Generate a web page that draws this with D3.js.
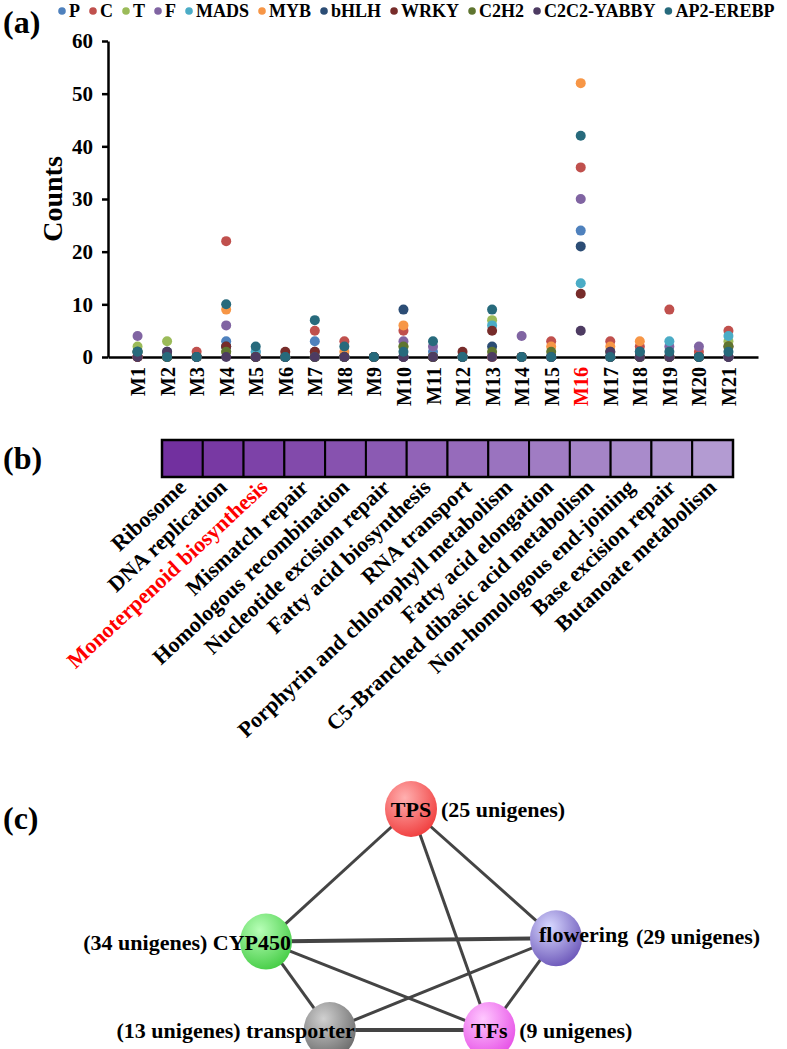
<!DOCTYPE html>
<html><head><meta charset="utf-8">
<script src="https://cdn.jsdelivr.net/npm/d3@7"></script>
<style>
body{margin:0;background:#fff;}
text{font-family:"Liberation Serif","Times New Roman",serif;font-weight:bold;}
</style></head>
<body><svg id="chart" width="787" height="1049"></svg>
<script>
// ---------- Panel (a) data ----------
const modules = ["M1","M2","M3","M4","M5","M6","M7","M8","M9","M10","M11","M12","M13","M14","M15","M16","M17","M18","M19","M20","M21"];
const seriesNames = ["P","C","T","F","MADS","MYB","bHLH","WRKY","C2H2","C2C2-YABBY","AP2-EREBP"];
const seriesColors = ["#4F81BD","#C0504D","#9BBB59","#8064A2","#4BACC6","#F79646","#2C4D75","#772C2A","#5F7530","#4D3B62","#276A7C"];
const P     = [0,0,0,3,1,0,3,0,0,0,1,0,0,0,0,24,0,0,0,0,0];
const C     = [0,0,1,22,0,0,5,3,0,5,0,0,0,0,3,36,3,2,9,1,5];
const T     = [2,3,0,1,0,0,0,0,0,2,0,0,7,0,0,null,0,0,0,0,3];
const F     = [4,0,0,6,0,0,1,0,0,3,2,0,0,4,0,30,0,0,2,2,0];
const MADS  = [1,0,0,2,1,0,0,0,0,0,0,0,6,0,0,14,0,0,3,0,4];
const MYB   = [0,0,0,9,0,0,0,1,0,6,0,0,0,0,2,52,2,3,0,0,0];
const bHLH  = [1,1,0,2,0,0,0,0,0,9,0,0,2,0,0,21,0,1,0,0,0];
const WRKY  = [0,0,0,2,0,1,1,0,0,0,0,1,5,0,0,12,0,0,0,0,2];
const C2H2  = [1,0,0,1,0,0,0,0,0,2,0,0,1,0,1,null,1,0,0,0,2];
const YABBY = [0,1,0,0,0,0,0,0,0,0,0,0,0,0,0,5,1,0,0,0,0];
const AP2   = [1,0,0,10,2,0,7,2,0,1,3,0,9,0,0,42,0,1,1,0,1];
const seriesValues = [P,C,T,F,MADS,MYB,bHLH,WRKY,C2H2,YABBY,AP2];
const yTicks = [0,10,20,30,40,50,60];
const highlightModule = "M16";

// ---------- Panel (b) data ----------
const pathways = ["Ribosome","DNA replication","Monoterpenoid biosynthesis","Mismatch repair","Homologous recombination","Nucleotide excision repair","Fatty acid biosynthesis","RNA transport","Porphyrin and chlorophyll metabolism","Fatty acid elongation","C5-Branched dibasic acid metabolism","Non-homologous end-joining","Base excision repair","Butanoate metabolism"];
const enrichScore = [14.0,13.3,12.6,12.0,11.4,10.8,10.1,9.5,8.9,8.2,7.6,7.0,6.4,5.8];
const highlightPathway = "Monoterpenoid biosynthesis";

// ---------- Panel (c) data ----------
const nodeNames = ["TPS","CYP450","flowering","transporter","TFs"];
const nodeCounts = [25,34,29,13,9];
const nodeColors = [["#ffb0b0","#f03c3c"],["#b8ffb8","#44cc44"],["#d8d8ff","#6a55b8"],["#d0d0d0","#6a6a6a"],["#ffc8ff","#e64fe6"]];
// relative layout (0..1) of the network
const nodeLayoutX = [0.5,0.0,1.0,0.22,0.77];
const nodeLayoutY = [0.0,0.60,0.585,1.0,1.0];
const edges = [["TPS","CYP450"],["TPS","flowering"],["TPS","TFs"],["CYP450","flowering"],["CYP450","transporter"],["CYP450","TFs"],["flowering","transporter"],["flowering","TFs"],["transporter","TFs"]];
const thickEdges = [["CYP450","flowering"],["transporter","TFs"]];

const FONT = '"Liberation Serif","Times New Roman",serif';
const svg = d3.select("#chart");

// ======== Panel (a) ========
svg.append("text").attr("x",3).attr("y",33).attr("font-size",32).text("(a)");

// legend
const leg = svg.append("g").attr("font-size",18);
let lx = 62;
seriesNames.forEach((s,i)=>{
  leg.append("circle").attr("cx",lx).attr("cy",11).attr("r",3.8).attr("fill",seriesColors[i]);
  const t = leg.append("text").attr("x",lx+7).attr("y",17).text(s);
  lx += 7 + t.node().getComputedTextLength() + 13;
});

const x = d3.scalePoint().domain(modules).range([108,758]).padding(1);
const y = d3.scaleLinear().domain([0,60]).range([357,41]);

const yAxis = svg.append("g").attr("transform","translate(108,0)")
  .call(d3.axisLeft(y).tickValues(yTicks).tickSize(6).tickPadding(9).tickSizeOuter(0));
yAxis.select(".domain").attr("stroke","#000").attr("stroke-width",2.5);
yAxis.selectAll(".tick line").attr("stroke","#000").attr("stroke-width",2.5);
yAxis.selectAll(".tick text").attr("font-size",21).attr("fill","#000")
  .attr("font-family",FONT).attr("font-weight","bold");

const xAxis = svg.append("g").attr("transform","translate(0,357)")
  .call(d3.axisBottom(x).tickSize(0).tickSizeOuter(0).tickPadding(0));
xAxis.select(".domain").attr("stroke","#000").attr("stroke-width",2.5);
xAxis.selectAll(".tick text")
  .attr("font-size",20).attr("font-family",FONT).attr("font-weight","bold")
  .attr("fill",d=>d===highlightModule?"#ff0000":"#000")
  .attr("transform","rotate(-90)").attr("text-anchor","end")
  .attr("x",-10).attr("y",0).attr("dy","0.35em");

svg.append("text").attr("transform",`translate(62,${y(30)}) rotate(-90)`)
  .attr("text-anchor","middle").attr("font-size",28).text("Counts");

const dots = svg.append("g");
seriesValues.forEach((vals,si)=>{
  dots.selectAll(null).data(vals.map((v,i)=>({m:modules[i],v})).filter(d=>d.v!==null))
    .enter().append("circle")
    .attr("cx",d=>x(d.m)).attr("cy",d=>y(d.v)).attr("r",5)
    .attr("fill",seriesColors[si]);
});

// ======== Panel (b) ========
svg.append("text").attr("x",3).attr("y",469).attr("font-size",32).text("(b)");
const hx = d3.scaleBand().domain(pathways).range([162,733]);
const color = d3.scaleLinear().domain([d3.max(enrichScore),d3.min(enrichScore)])
  .range(["#72309F","#B39BD2"]).interpolate(d3.interpolateRgb);
const hm = svg.append("g");
hm.selectAll("rect").data(pathways).enter().append("rect")
  .attr("x",d=>hx(d)).attr("y",440).attr("width",hx.bandwidth()).attr("height",37)
  .attr("fill",(d,i)=>color(enrichScore[i])).attr("stroke","#000").attr("stroke-width",2);
hm.append("rect").attr("x",162).attr("y",440).attr("width",571).attr("height",37)
  .attr("fill","none").attr("stroke","#000").attr("stroke-width",2.5);
hm.selectAll("text").data(pathways).enter().append("text")
  .attr("transform",d=>`translate(${hx(d)+hx.bandwidth()/2+5},${489}) rotate(-43)`)
  .attr("text-anchor","end").attr("font-size",22)
  .attr("fill",d=>d===highlightPathway?"#ff0000":"#000").text(d=>d);

// ======== Panel (c) ========
svg.append("text").attr("x",3).attr("y",829).attr("font-size",32).text("(c)");
const nx = d3.scaleLinear().domain([0,1]).range([266,556]);
const ny = d3.scaleLinear().domain([0,1]).range([809,1030]);
const nodes = nodeNames.map((n,i)=>({name:n,count:nodeCounts[i],x:nx(nodeLayoutX[i]),y:ny(nodeLayoutY[i]),c:nodeColors[i]}));
const byName = Object.fromEntries(nodes.map(n=>[n.name,n]));
const defs = svg.append("defs");
nodes.forEach((n,i)=>{
  const g = defs.append("radialGradient").attr("id","g"+i).attr("cx","0.38").attr("cy","0.3").attr("r","0.75");
  g.append("stop").attr("offset","0").attr("stop-color",n.c[0]);
  g.append("stop").attr("offset","1").attr("stop-color",n.c[1]);
});
const isThick = e=>thickEdges.some(t=>t[0]===e[0]&&t[1]===e[1]);
svg.append("g").selectAll("line").data(edges).enter().append("line")
  .attr("x1",e=>byName[e[0]].x).attr("y1",e=>byName[e[0]].y)
  .attr("x2",e=>byName[e[1]].x).attr("y2",e=>byName[e[1]].y)
  .attr("stroke","#444").attr("stroke-width",e=>isThick(e)?4:3);
svg.append("g").selectAll("ellipse").data(nodes).enter().append("ellipse")
  .attr("cx",d=>d.x).attr("cy",d=>d.y).attr("rx",26).attr("ry",28)
  .attr("fill",(d,i)=>`url(#g${i})`);
const lab = svg.append("g").attr("font-size",22).attr("fill","#000");
nodes.forEach(n=>{
  const cnt = `(${n.count} unigenes)`;
  if(n.name==="TPS"||n.name==="TFs"){
    lab.append("text").attr("x",n.x).attr("y",n.y+8).attr("text-anchor","middle").text(n.name);
    lab.append("text").attr("x",n.x+30).attr("y",n.y+8).text(cnt);
  } else if(n.name==="flowering"){
    lab.append("text").attr("x",n.x-17).attr("y",n.y+4).text(n.name);
    lab.append("text").attr("x",n.x+80).attr("y",n.y+6).text(cnt);
  } else {
    lab.append("text").attr("x",n.x+25).attr("y",n.y+8).attr("text-anchor","end").text(cnt+" "+n.name);
  }
});
</script></body></html>
